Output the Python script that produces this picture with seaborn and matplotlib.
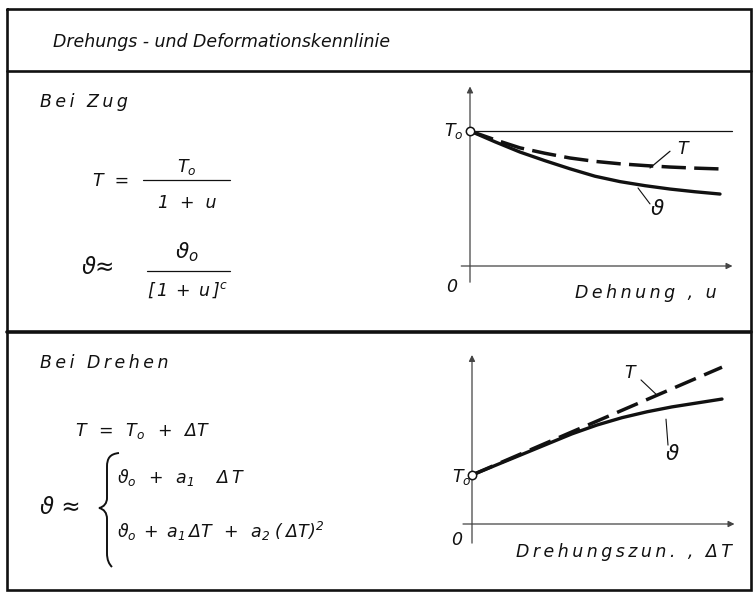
import numpy as np
import pandas as pd
import matplotlib
matplotlib.use("Agg")
import matplotlib.pyplot as plt
from matplotlib.path import Path
from matplotlib.patches import PathPatch
import seaborn as sns

# Kennlinien bei Zug: Dehnung u, bezogene Drehung T/T0 und Deformation theta/theta0
dehnung = [0.0, 0.1, 0.2, 0.3, 0.4, 0.5, 0.6, 0.7, 0.8, 0.9, 1.0]
zug_T = [1.0, 0.935, 0.875, 0.835, 0.80, 0.775, 0.757, 0.744, 0.733, 0.725, 0.719]
zug_theta = [1.0, 0.92, 0.844, 0.78, 0.72, 0.665, 0.625, 0.595, 0.57, 0.55, 0.533]

# Kennlinien bei Drehen: Drehungszunahme dT
drehzun = [0.0, 0.1, 0.2, 0.3, 0.4, 0.5, 0.6, 0.7, 0.8, 0.9, 1.0]
dreh_T = [1.0, 1.22, 1.44, 1.66, 1.88, 2.10, 2.32, 2.54, 2.76, 2.98, 3.2]
dreh_theta = [1.0, 1.21, 1.42, 1.63, 1.84, 2.02, 2.17, 2.29, 2.39, 2.47, 2.55]

title = "Drehungs - und Deformationskennlinie"
section_labels = ["Bei Zug", "Bei Drehen"]
x_labels = ["Dehnung , u", "Drehungszun. , ΔT"]

sns.set_style("white")
plt.rcParams["font.family"] = ["DejaVu Sans"]
plt.rcParams.update({
    "mathtext.fontset": "custom",
    "mathtext.rm": "DejaVu Sans:italic",
    "mathtext.it": "DejaVu Sans:italic",
    "mathtext.sf": "DejaVu Sans:italic",
    "mathtext.default": "it",
})


def spaced(s):
    # wide technical lettering: thin space between letters
    return "\u2009".join(s)


W, H = 756, 592
fig = plt.figure(figsize=(W / 100, H / 100), dpi=100)
fig.patch.set_facecolor("white")

# page layer in pixel units for frame and formulas
bg = fig.add_axes([0, 0, 1, 1])
bg.set_xlim(0, W)
bg.set_ylim(H, 0)
bg.axis("off")

INK = "#111111"
AXC = "#444444"
FS = 12.5
TXT = dict(color=INK, fontsize=FS, style="italic")

# frame and dividers
bg.plot([7, 751, 751, 7, 7], [9, 9, 590, 590, 9], color=INK, lw=1.9, solid_joinstyle="miter")
bg.plot([7, 751], [71, 71], color=INK, lw=1.9)
bg.plot([7, 751], [332, 332], color=INK, lw=2.6)

bg.text(53, 42, title, va="center", **TXT)
bg.text(40, 102, spaced(section_labels[0]), va="center", **TXT)
bg.text(40, 363, spaced(section_labels[1]), va="center", **TXT)

# formulas, tension
bg.text(93, 181, "T  =", va="center", **TXT)
bg.text(187, 167, r"$T_o$", ha="center", va="center", **TXT)
bg.plot([143, 230], [180, 180], color=INK, lw=0.9)
bg.text(187, 203, "1  +  u", ha="center", va="center", **TXT)
bg.text(82, 268, "ϑ≈", va="center", color=INK, fontsize=FS + 4, style="italic")
bg.text(187, 252, r"$\vartheta_o$", ha="center", va="center", color=INK, fontsize=FS + 3)
bg.plot([147, 230], [271, 271], color=INK, lw=0.9)
bg.text(187, 290, r"$[\,1\;+\;u\,]^c$", ha="center", va="center", **TXT)

# formulas, twisting
bg.text(75, 431, r"$T\;\;=\;\;T_o\;\;+\;\;\Delta T$", va="center", **TXT)
bg.text(40, 508, "ϑ ≈", va="center", color=INK, fontsize=FS + 4, style="italic")
brace = Path(
    [(119, 453), (110, 454), (107, 458), (107, 467),
     (107, 498), (107, 503), (104, 507), (99, 508),
     (104, 509), (107, 513), (107, 519),
     (107, 553), (107, 560), (109, 564), (112, 567)],
    [Path.MOVETO, Path.CURVE4, Path.CURVE4, Path.CURVE4,
     Path.LINETO, Path.CURVE4, Path.CURVE4, Path.CURVE4,
     Path.CURVE4, Path.CURVE4, Path.CURVE4,
     Path.LINETO, Path.CURVE4, Path.CURVE4, Path.CURVE4],
)
bg.add_patch(PathPatch(brace, fill=False, edgecolor=INK, lw=1.4))
bg.text(117, 477, r"$\vartheta_o\;\;+\;\;a_1\quad\;\Delta\,T$", va="center", **TXT)
bg.text(117, 531, r"$\vartheta_o\;+\;a_1\,\Delta T\;\;+\;\;a_2\;(\;\Delta T)^2$", va="center", **TXT)


def panel(px0, px1, py0, py1, xlim, ylim):
    ax = fig.add_axes([px0 / W, 1 - py1 / H, (px1 - px0) / W, (py1 - py0) / H])
    ax.set_xlim(*xlim)
    ax.set_ylim(*ylim)
    ax.axis("off")
    ax.patch.set_alpha(0)
    return ax


def axes_arrows(ax, x0, x1, y0, y1):
    arr = dict(arrowstyle="-|>", color=AXC, lw=0.9, mutation_scale=9, shrinkA=0, shrinkB=0)
    ax.annotate("", xy=(x1, 0), xytext=(x0, 0), arrowprops=arr)
    ax.annotate("", xy=(0, y1), xytext=(0, y0), arrowprops=arr)


def curves(ax, x, yT, yth, dashes):
    df = pd.DataFrame({"x": x, "T": yT, "theta": yth})
    sns.lineplot(data=df, x="x", y="theta", ax=ax, color=INK, lw=2.4, legend=False)
    sns.lineplot(data=df, x="x", y="T", ax=ax, color=INK, lw=2.5, legend=False)
    ax.lines[-1].set_dashes(dashes)
    ax.plot([0], [1], marker="o", ms=6, mfc="white", mec=INK, mew=1.1, zorder=5)
    ax.set_xlabel("")
    ax.set_ylabel("")
    ax.axis("off")


# panel: Bei Zug
ax1 = panel(445, 745, 83.75, 286.25, (-0.1, 1.1), (-0.15, 1.35))
axes_arrows(ax1, -0.035, 1.05, -0.12, 1.33)
ax1.plot([0, 1.05], [1, 1], color=INK, lw=0.9)
curves(ax1, dehnung, zug_T, zug_theta, [7, 2.4])
ax1.plot([0.72, 0.80], [0.726, 0.85], color=INK, lw=0.9)
ax1.text(0.83, 0.87, "T", va="center", ha="left", **TXT)
ax1.plot([0.672, 0.72], [0.578, 0.46], color=INK, lw=0.8)
ax1.text(0.75, 0.42, "ϑ", va="center", ha="center", color=INK, fontsize=FS + 3, style="italic")

bg.text(463, 131, r"$T_o$", ha="right", va="center", **TXT)
bg.text(452, 287, "0", ha="center", va="center", **TXT)
bg.text(717, 293, spaced(x_labels[0]), ha="right", va="center", **TXT)

# panel: Bei Drehen
ax2 = panel(447, 747, 347.6, 548.5, (-0.1, 1.1), (-0.5, 3.6))
axes_arrows(ax2, -0.036, 1.05, -0.39, 3.45)
curves(ax2, drehzun, dreh_T, dreh_theta, [6.5, 2.6])
ax2.plot([0.676, 0.74], [2.94, 2.63], color=INK, lw=0.8)
ax2.text(0.632, 3.08, "T", va="center", ha="center", **TXT)
ax2.plot([0.776, 0.784], [2.14, 1.61], color=INK, lw=0.8)
ax2.text(0.80, 1.42, "ϑ", va="center", ha="center", color=INK, fontsize=FS + 3, style="italic")

bg.text(471, 477, r"$T_o$", ha="right", va="center", **TXT)
bg.text(457, 540, "0", ha="center", va="center", **TXT)
bg.text(732, 552, spaced(x_labels[1]), ha="right", va="center", **TXT)

fig.savefig("out.png", dpi=100, facecolor="white")
